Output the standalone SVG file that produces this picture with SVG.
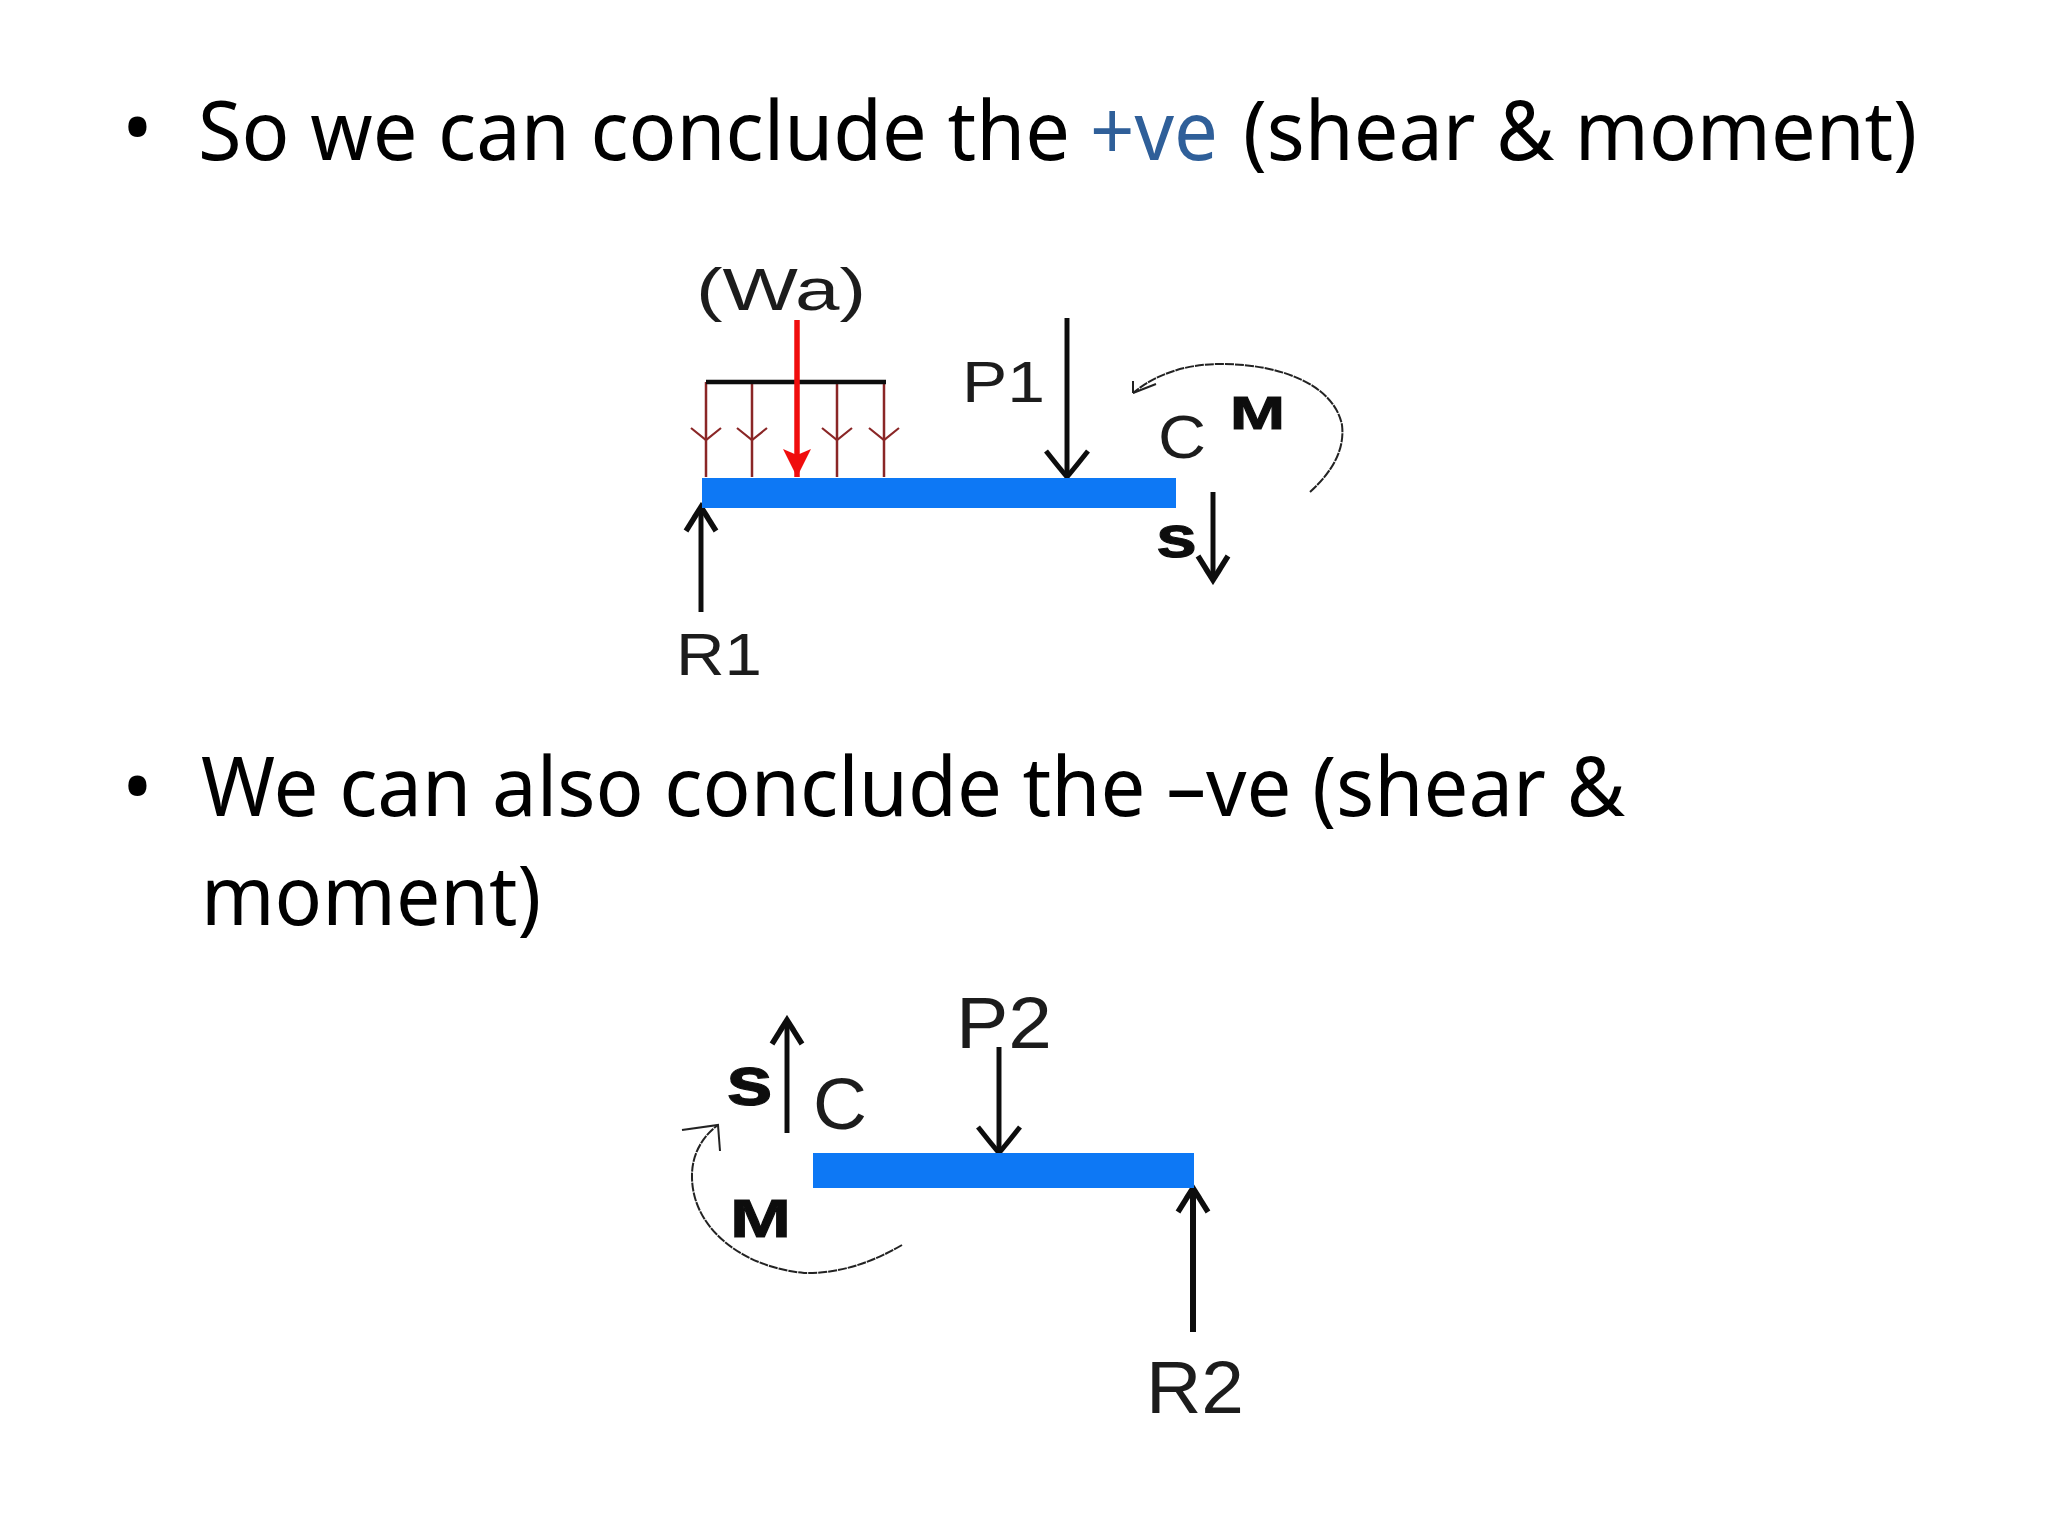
<svg xmlns="http://www.w3.org/2000/svg" width="2048" height="1536" viewBox="0 0 2048 1536">
<style>
.h{font-family:"Noto Sans","Open Sans","Liberation Sans",sans-serif;font-size:82px;fill:#000}
.b{fill:#2f5f99}
.l{font-family:"Liberation Sans",Arial,sans-serif;fill:#1c1c1c}
.m{font-family:"Liberation Sans",Arial,sans-serif;font-weight:bold;fill:#111;stroke:#111;stroke-width:1}
.beam{fill:#0a78f5}
.f{fill:none;stroke:#111;stroke-width:5}
.fl{fill:none;stroke:#111;stroke-width:6}
.r{fill:none;stroke:#f01010;stroke-width:5.5}
.d{fill:none;stroke:#8a2626;stroke-width:2.5}
.bar{fill:none;stroke:#111;stroke-width:4.5}
.a{fill:none;stroke:#222;stroke-width:2;stroke-dasharray:9 1}
.ah{fill:none;stroke:#222;stroke-width:2}
</style>
<defs>
<filter id="soft" x="-5%" y="-5%" width="110%" height="110%"><feGaussianBlur stdDeviation="0.7"/></filter>
<marker id="big" markerUnits="userSpaceOnUse" markerWidth="48" markerHeight="48" viewBox="0 0 48 48" refX="42" refY="24" orient="auto"><path d="M16 3 Q30 14 42 24 Q30 34 16 45" fill="none" stroke="#111" stroke-width="5"/></marker>
<marker id="small" markerUnits="userSpaceOnUse" markerWidth="36" markerHeight="36" viewBox="0 0 36 36" refX="31" refY="18" orient="auto"><path d="M7 3 L31 18 L7 33 M20 11 L31 18 L20 25" fill="none" stroke="#111" stroke-width="5.5"/></marker>
<marker id="red" markerUnits="userSpaceOnUse" markerWidth="34" markerHeight="34" viewBox="0 0 34 34" refX="30" refY="17" orient="auto"><path d="M2 3 L30 17 L2 31 L8 17 Z" fill="#f01010"/></marker>
<marker id="dist" markerUnits="userSpaceOnUse" markerWidth="34" markerHeight="34" viewBox="0 0 34 34" refX="17" refY="17" orient="auto"><path d="M5 2 L17 17 L5 32" fill="none" stroke="#8a2626" stroke-width="2.2"/></marker>
</defs>
<rect width="2048" height="1536" fill="#fff"/>
<g id="heading1">
<text class="h" x="122" y="157">•</text>
<text class="h" x="198" y="160" textLength="872" lengthAdjust="spacingAndGlyphs">So we can conclude the</text>
<text class="h b" x="1090" y="160" textLength="128" lengthAdjust="spacingAndGlyphs">+ve</text>
<text class="h" x="1243" y="160" textLength="674" lengthAdjust="spacingAndGlyphs">(shear &amp; moment)</text>
</g>
<g id="heading2">
<text class="h" x="122" y="816">•</text>
<text class="h" x="201" y="816" textLength="1424" lengthAdjust="spacingAndGlyphs">We can also conclude the –ve (shear &amp;</text>
<text class="h" x="201" y="925" textLength="340" lengthAdjust="spacingAndGlyphs">moment)</text>
</g>
<g id="connectors" filter="url(#soft)">
<path class="d" d="M706 382V440V477" marker-mid="url(#dist)"/>
<path class="d" d="M752 382V440V477" marker-mid="url(#dist)"/>
<path class="d" d="M837 382V440V477" marker-mid="url(#dist)"/>
<path class="d" d="M884 382V440V477" marker-mid="url(#dist)"/>
<path class="bar" d="M706 382H886"/>
<path class="r" d="M797 320V477" marker-end="url(#red)"/>
<path class="f" d="M1067 318V477" marker-end="url(#big)"/>
<path class="f" d="M1213 492V580" marker-end="url(#small)"/>
<path class="f" d="M701 612V507" marker-end="url(#small)"/>
<path class="a" d="M1310 492C1332 472 1345 450 1342 425C1334 385 1281 364 1221 364C1186 364 1156 374 1133 393"/>
<path class="ah" d="M1133 393L1156 384M1133 393L1133 381"/>
<path class="f" d="M999 1047V1153" marker-end="url(#big)"/>
<path class="f" d="M787 1133V1020" marker-end="url(#small)"/>
<path class="fl" d="M1193 1332V1188" marker-end="url(#small)"/>
<path class="a" d="M902 1245C868 1265 834 1274 804 1273C741 1267 691 1227 692 1175C692 1153 704 1135 718 1125"/>
<path class="ah" d="M682 1130L718 1125L720 1151"/>
</g>
<g filter="url(#soft)">
<g id="beam1"><rect class="beam" x="702" y="478" width="474" height="30"/></g>
<g id="beam2"><rect class="beam" x="813" y="1153" width="381" height="35"/></g>
</g>
<g id="labels" filter="url(#soft)">
<text id="wa" class="l" x="696" y="310" font-size="60" textLength="170" lengthAdjust="spacingAndGlyphs">(Wa)</text>
<text id="p1" class="l" x="962" y="402" font-size="58" textLength="83" lengthAdjust="spacingAndGlyphs">P1</text>
<text id="c1" class="l" x="1158" y="458" font-size="62" textLength="48" lengthAdjust="spacingAndGlyphs">C</text>
<text id="m1" class="m" x="1230" y="429" font-size="47" textLength="55" lengthAdjust="spacingAndGlyphs">M</text>
<text id="s1" class="m" x="1156" y="557" font-size="60" textLength="41" lengthAdjust="spacingAndGlyphs">s</text>
<text id="r1" class="l" x="676" y="675" font-size="60" textLength="86" lengthAdjust="spacingAndGlyphs">R1</text>
<text id="p2" class="l" x="956" y="1048" font-size="72" textLength="96" lengthAdjust="spacingAndGlyphs">P2</text>
<text id="s2" class="m" x="726" y="1105" font-size="70" textLength="47" lengthAdjust="spacingAndGlyphs">s</text>
<text id="c2" class="l" x="813" y="1129" font-size="72" textLength="54" lengthAdjust="spacingAndGlyphs">C</text>
<text id="m2" class="m" x="730" y="1237" font-size="54" textLength="61" lengthAdjust="spacingAndGlyphs">M</text>
<text id="r2" class="l" x="1146" y="1413" font-size="74" textLength="98" lengthAdjust="spacingAndGlyphs">R2</text>
</g>
</svg>
